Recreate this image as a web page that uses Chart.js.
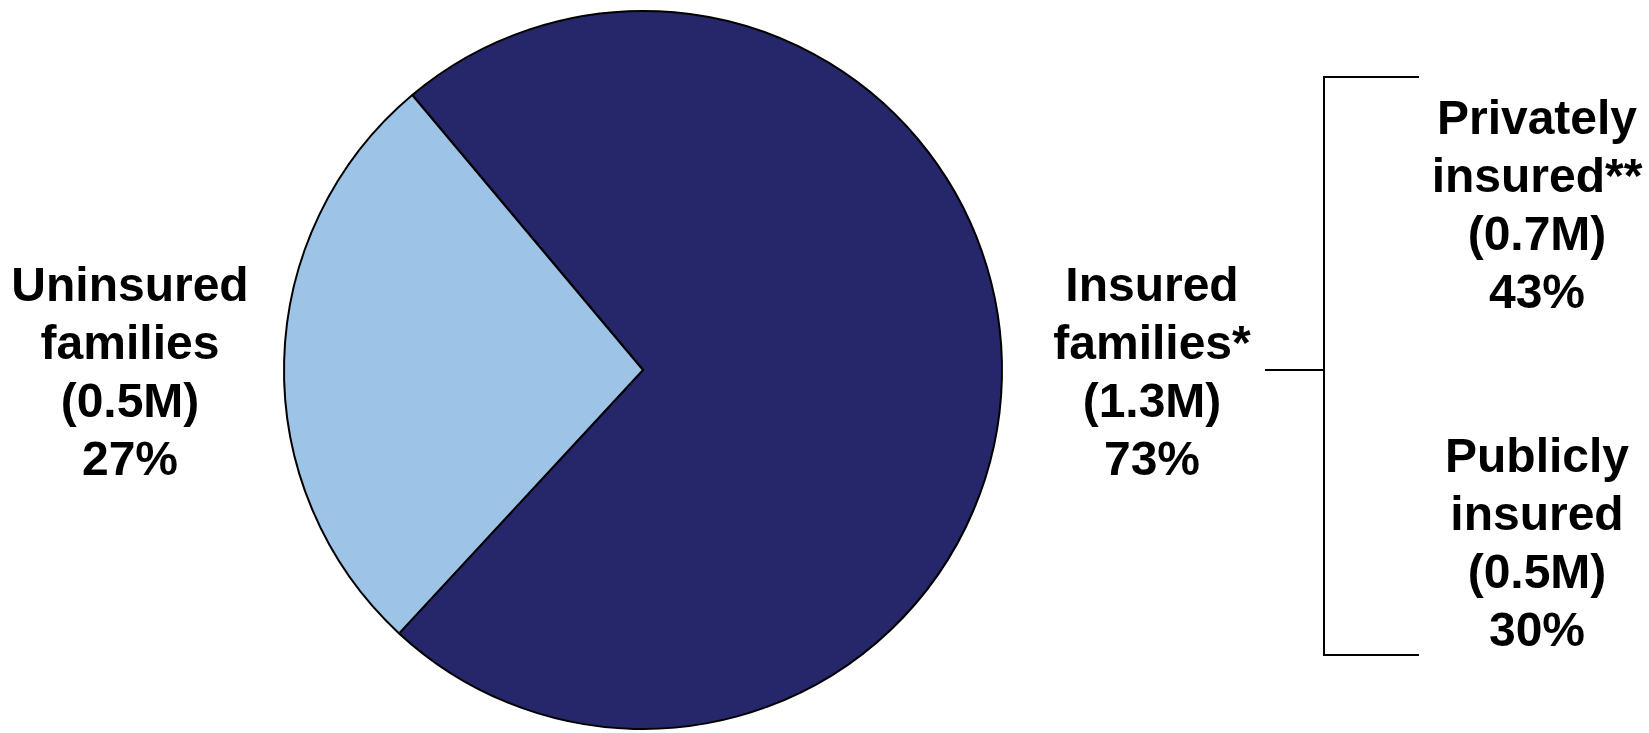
<!DOCTYPE html>
<html>
<head>
<meta charset="utf-8">
<title>Families by insurance status</title>
<script src="https://cdn.jsdelivr.net/npm/chart.js@4/dist/chart.umd.min.js"></script>
<style>
  html, body { margin: 0; padding: 0; background: #fff; }
  canvas { display: block; }
</style>
</head>
<body>
<canvas id="pie" width="1649" height="733"></canvas>
<script>
// slices, in drawing order starting from the upper-left edge
const categories = ['Insured families*', 'Uninsured families']
const labelLines = [['Insured', 'families*'], ['Uninsured', 'families']]
const counts = ['1.3M', '0.5M']
const shares = [73, 27]
const colors = ['#26266b', '#9dc3e6']

// breakdown of the insured slice
const subLines = [['Privately', 'insured**'], ['Publicly', 'insured']]
const subCounts = ['0.7M', '0.5M']
const subShares = [43, 30]

const FONT = 'bold 48px "Liberation Sans", Arial, sans-serif'
const LINE = 58

const drawBlock = (ctx, x, yTop, lines) => {
    lines.forEach((t, i) => ctx.fillText(t, x, yTop + i * LINE))
}

const pieLabels = {
    id: 'pieLabels',
    afterDraw(chart) {
        const ctx = chart.ctx
        const arc = chart.getDatasetMeta(0).data[0]
        const cx = arc.x, cy = arc.y, r = arc.outerRadius

        ctx.save()
        ctx.font = FONT
        ctx.fillStyle = '#000'
        ctx.textAlign = 'center'
        ctx.textBaseline = 'alphabetic'

        const block = (i) => [...labelLines[i], '(' + counts[i] + ')', shares[i] + '%']
        // uninsured on the left, insured on the right
        drawBlock(ctx, cx - r - 154, cy - 69, block(1))
        drawBlock(ctx, cx + r + 150, cy - 69, block(0))

        // bracket splitting the insured share
        const bx = 1324, top = 77, bottom = 655
        ctx.strokeStyle = '#000'
        ctx.lineWidth = 2
        ctx.beginPath()
        ctx.moveTo(1419, top)
        ctx.lineTo(bx, top)
        ctx.lineTo(bx, bottom)
        ctx.lineTo(1419, bottom)
        ctx.moveTo(1265, cy)
        ctx.lineTo(bx, cy)
        ctx.stroke()

        const subBlock = (i) => [...subLines[i], '(' + subCounts[i] + ')', subShares[i] + '%']
        drawBlock(ctx, 1537, 134, subBlock(0))
        drawBlock(ctx, 1537, 472, subBlock(1))
        ctx.restore()
    }
}

new Chart(document.getElementById('pie').getContext('2d'), {
    type: 'pie',
    data: {
        labels: categories,
        datasets: [{
            data: shares,
            backgroundColor: colors,
            borderColor: '#000',
            borderWidth: 2
        }]
    },
    options: {
        responsive: false,
        animation: false,
        rotation: -40,
        layout: { padding: { top: 10, bottom: 3, left: 0, right: 363 } },
        plugins: {
            legend: { display: false },
            tooltip: { enabled: false }
        }
    },
    plugins: [pieLabels]
})
</script>
</body>
</html>
